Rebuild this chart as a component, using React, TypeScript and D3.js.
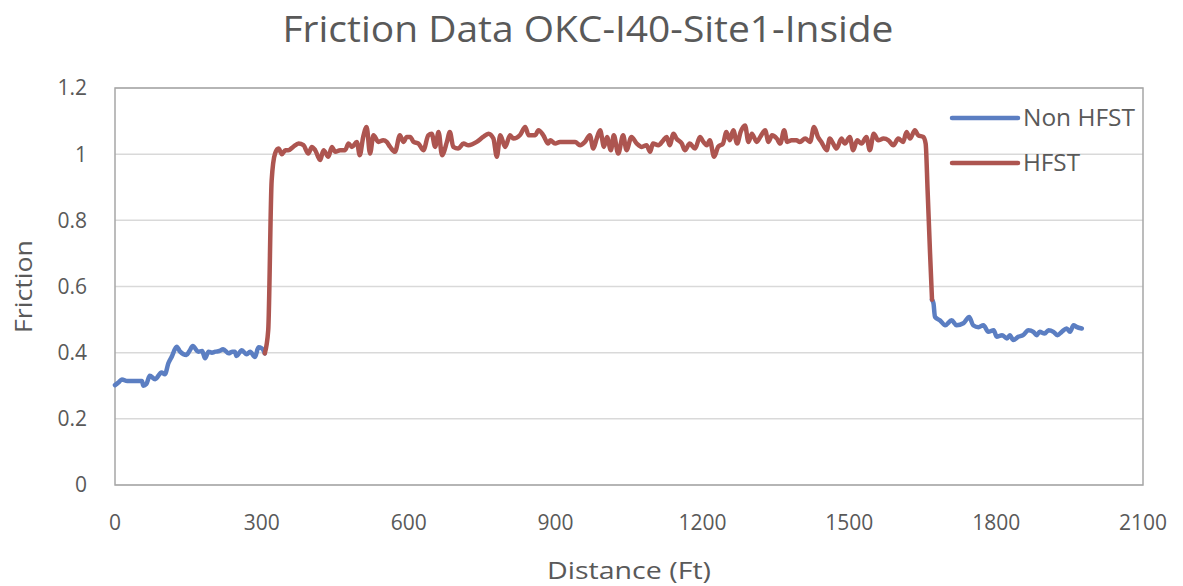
import React from "react";
import * as d3 from "d3";

const title = "Friction Data OKC-I40-Site1-Inside";
const xLabel = "Distance (Ft)";
const yLabel = "Friction";
const xTicks = [0, 300, 600, 900, 1200, 1500, 1800, 2100];
const yTicks = [0, 0.2, 0.4, 0.6, 0.8, 1, 1.2];
const seriesNames = ["Non HFST", "HFST"];

const nonHfstADist = [0, 7, 14, 25, 40, 55, 58, 64, 71, 82, 95, 102, 109, 116, 126, 133, 146, 152, 159, 170, 178, 184, 191, 198, 205, 213, 221, 232, 240, 245, 248, 259, 269, 276, 286, 293, 300, 306];
const nonHfstAFric = [0.302, 0.31, 0.319, 0.314, 0.314, 0.314, 0.3, 0.305, 0.33, 0.32, 0.34, 0.335, 0.368, 0.388, 0.418, 0.403, 0.393, 0.405, 0.42, 0.403, 0.405, 0.383, 0.403, 0.4, 0.403, 0.405, 0.41, 0.398, 0.403, 0.403, 0.39, 0.407, 0.395, 0.403, 0.387, 0.416, 0.413, 0.398];

const hfstDist = [306, 313, 320, 327, 334, 341, 348, 354, 364, 375, 385, 395, 402, 409, 419, 426, 436, 443, 450, 460, 470, 477, 484, 494, 500, 507, 514, 521, 528, 538, 548, 555, 562, 572, 582, 589, 596, 603, 610, 620, 630, 640, 647, 654, 661, 668, 678, 684, 691, 701, 712, 722, 739, 752, 763, 773, 780, 787, 797, 807, 814, 827, 838, 845, 858, 865, 875, 885, 889, 899, 909, 919, 930, 940, 950, 960, 970, 977, 984, 991, 999, 1005, 1013, 1019, 1028, 1038, 1045, 1055, 1066, 1076, 1086, 1093, 1099, 1110, 1120, 1127, 1133, 1141, 1147, 1158, 1164, 1174, 1185, 1195, 1202, 1209, 1215, 1224, 1232, 1242, 1249, 1256, 1263, 1271, 1278, 1287, 1294, 1301, 1311, 1318, 1328, 1335, 1342, 1352, 1359, 1367, 1373, 1382, 1392, 1399, 1410, 1420, 1428, 1436, 1443, 1454, 1460, 1467, 1474, 1484, 1491, 1501, 1508, 1516, 1525, 1535, 1542, 1550, 1559, 1570, 1580, 1590, 1600, 1610, 1617, 1624, 1634, 1641, 1651, 1656, 1660, 1665, 1669];
const hfstFric = [0.398, 0.468, 0.92, 1.002, 1.017, 1.0, 1.012, 1.012, 1.022, 1.032, 1.027, 1.002, 1.022, 1.012, 0.982, 1.012, 0.992, 1.022, 1.007, 1.012, 1.012, 1.032, 1.022, 1.037, 0.997, 1.052, 1.082, 1.002, 1.057, 1.037, 1.042, 1.037, 1.022, 1.007, 1.057, 1.037, 1.052, 1.052, 1.037, 1.032, 1.012, 1.057, 1.062, 1.022, 1.067, 0.997, 1.037, 1.067, 1.022, 1.017, 1.032, 1.027, 1.037, 1.052, 1.062, 1.047, 0.992, 1.057, 1.022, 1.057, 1.047, 1.057, 1.082, 1.057, 1.057, 1.072, 1.057, 1.032, 1.042, 1.032, 1.037, 1.037, 1.037, 1.037, 1.027, 1.037, 1.057, 1.017, 1.047, 1.072, 1.022, 1.052, 1.012, 1.057, 1.002, 1.057, 1.012, 1.052, 1.032, 1.022, 1.027, 1.007, 1.032, 1.027, 1.042, 1.052, 1.027, 1.062, 1.047, 1.032, 1.012, 1.032, 1.017, 1.052, 1.037, 1.027, 1.042, 0.992, 1.022, 1.032, 1.067, 1.042, 1.072, 1.032, 1.067, 1.087, 1.037, 1.062, 1.037, 1.052, 1.072, 1.037, 1.057, 1.047, 1.032, 1.072, 1.037, 1.042, 1.042, 1.037, 1.047, 1.037, 1.082, 1.052, 1.037, 1.012, 1.047, 1.032, 1.017, 1.047, 1.032, 1.052, 1.012, 1.042, 1.032, 1.052, 1.012, 1.062, 1.042, 1.047, 1.042, 1.027, 1.047, 1.037, 1.067, 1.047, 1.072, 1.057, 1.052, 1.032, 0.89, 0.7, 0.56];

const nonHfstBDist = [1669, 1672, 1675, 1685, 1696, 1709, 1719, 1733, 1745, 1753, 1764, 1774, 1784, 1795, 1801, 1812, 1822, 1828, 1835, 1845, 1855, 1866, 1876, 1883, 1889, 1899, 1907, 1917, 1925, 1934, 1944, 1951, 1958, 1964, 1975];
const nonHfstBFric = [0.56, 0.549, 0.508, 0.498, 0.483, 0.498, 0.483, 0.489, 0.508, 0.483, 0.477, 0.483, 0.463, 0.468, 0.448, 0.453, 0.443, 0.453, 0.438, 0.448, 0.453, 0.468, 0.463, 0.453, 0.463, 0.458, 0.468, 0.463, 0.453, 0.463, 0.473, 0.463, 0.483, 0.478, 0.473];

const BLUE = "#5B7EC2";
const RED = "#AD5550";
const TEXT = "#595959";
const FONT = "'Open Sans', 'Noto Sans', sans-serif";

export default function App() {
  const W = 1183, H = 586;
  const left = 115, right = 1143, top = 88, bottom = 485;
  const x = d3.scaleLinear().domain([0, 2100]).range([left, right]);
  const y = d3.scaleLinear().domain([0, 1.2]).range([bottom, top]);
  const line = d3.line<[number, number]>().x(d => x(d[0])).y(d => y(d[1])).curve(d3.curveMonotoneX);
  const zip = (a: number[], b: number[]) => a.map((v, i) => [v, b[i]] as [number, number]);
  const blueA = line(zip(nonHfstADist, nonHfstAFric)) || "";
  const blueB = line(zip(nonHfstBDist, nonHfstBFric)) || "";
  const red = line(zip(hfstDist, hfstFric)) || "";

  return (
    <svg width={W} height={H} style={{ position: "absolute", left: 0, top: 0, background: "#fff" }} fontFamily={FONT}>
      <rect x={0} y={0} width={W} height={H} fill="#fff" />
      <text x={588} y={42} textAnchor="middle" fontSize={37} fill={TEXT} textLength={611} lengthAdjust="spacingAndGlyphs">{title}</text>
      {yTicks.map(t => (
        <line key={"g" + t} x1={left} x2={right} y1={y(t)} y2={y(t)} stroke="#d9d9d9" strokeWidth={1.5} />
      ))}
      <rect x={left} y={top} width={right - left} height={bottom - top} fill="none" stroke="#a6a6a6" strokeWidth={1.5} />
      {yTicks.map(t => (
        <text key={"yt" + t} x={87} y={y(t)} dy="0.35em" textAnchor="end" fontSize={21} fill={TEXT}>{d3.format("~g")(t)}</text>
      ))}
      {xTicks.map(t => (
        <text key={"xt" + t} x={x(t)} y={530} textAnchor="middle" fontSize={21} fill={TEXT}>{t}</text>
      ))}
      <text x={(left + right) / 2} y={579} textAnchor="middle" fontSize={24} fill={TEXT} textLength={164} lengthAdjust="spacingAndGlyphs">{xLabel}</text>
      <text transform={`translate(32, ${(top + bottom) / 2}) rotate(-90)`} textAnchor="middle" fontSize={24} fill={TEXT} textLength={93} lengthAdjust="spacingAndGlyphs">{yLabel}</text>
      <path d={blueA} fill="none" stroke={BLUE} strokeWidth={4.5} strokeLinejoin="round" strokeLinecap="round" />
      <path d={blueB} fill="none" stroke={BLUE} strokeWidth={4.5} strokeLinejoin="round" strokeLinecap="round" />
      <path d={red} fill="none" stroke={RED} strokeWidth={4.5} strokeLinejoin="round" strokeLinecap="round" />
      {seriesNames.map((n, i) => (
        <g key={n}>
          <line x1={952} x2={1018} y1={118 + i * 45} y2={118 + i * 45} stroke={i === 0 ? BLUE : RED} strokeWidth={4.5} strokeLinecap="round" />
          <text x={1023} y={118 + i * 45} dy="0.35em" fontSize={23} fill={TEXT} textLength={i === 0 ? 112 : 57} lengthAdjust="spacingAndGlyphs">{n}</text>
        </g>
      ))}
    </svg>
  );
}
